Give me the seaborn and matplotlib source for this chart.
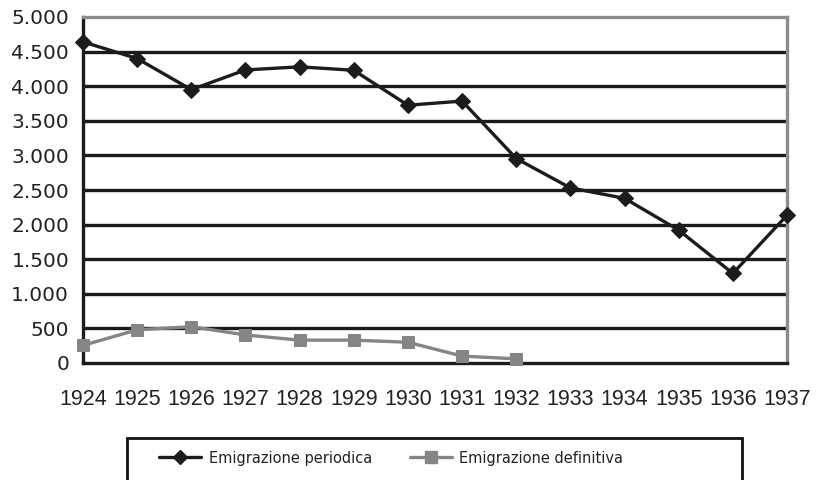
import pandas as pd
import matplotlib.pyplot as plt
import seaborn as sns
from matplotlib.lines import Line2D
from matplotlib.patches import Rectangle

# values
years = [1924, 1925, 1926, 1927, 1928, 1929, 1930, 1931, 1932, 1933, 1934, 1935, 1936, 1937]
periodica = [4640, 4400, 3950, 4235, 4280, 4230, 3725, 3785, 2955, 2530, 2380, 1920, 1295, 2135]
def_years = [1924, 1925, 1926, 1927, 1928, 1929, 1930, 1931, 1932]
definitiva = [255, 480, 525, 405, 330, 330, 300, 100, 60]
y_ticks = [0, 500, 1000, 1500, 2000, 2500, 3000, 3500, 4000, 4500, 5000]
y_labels = ["0", "500", "1.000", "1.500", "2.000", "2.500", "3.000", "3.500", "4.000", "4.500", "5.000"]

df_p = pd.DataFrame({"anno": years, "valore": periodica})
df_d = pd.DataFrame({"anno": def_years, "valore": definitiva})

sns.set_style("white")
plt.rcParams["font.family"] = ["DejaVu Sans"]

W, H = 817, 480
fig = plt.figure(figsize=(W / 100, H / 100), dpi=100)
ax = fig.add_axes([83 / W, 1 - 363 / H, (787 - 83) / W, (363 - 17) / H])

for y in y_ticks[1:-1]:
    ax.axhline(y, color="#1a1a1a", lw=2.4, zorder=1)

black = "#1c1c1c"
grey = "#858585"
sns.lineplot(data=df_p, x="anno", y="valore", ax=ax, color=black, lw=2.4,
             marker="D", markersize=8.5, markeredgecolor=black, clip_on=False, zorder=4)
sns.lineplot(data=df_d, x="anno", y="valore", ax=ax, color=grey, lw=2.4,
             marker="s", markersize=9, markeredgecolor=grey, clip_on=False, zorder=3)

ax.set_xlim(1924, 1937)
ax.set_ylim(0, 5000)
ax.set_xticks(years)
ax.set_xticklabels([str(y) for y in years], fontsize=15.5, family=["Liberation Sans", "DejaVu Sans"])
ax.set_yticks(y_ticks)
ax.set_yticklabels(y_labels, fontsize=14.5, color="#222222")
ax.tick_params(axis="x", direction="out", length=7, width=2.2, color=black, pad=12, labelcolor="#222222")
ax.tick_params(axis="y", direction="out", length=6, width=2.2, color=black, pad=4)
ax.set_xlabel("")
ax.set_ylabel("")

for side in ["left", "bottom"]:
    ax.spines[side].set_color(black)
    ax.spines[side].set_linewidth(2.4)
for side in ["top", "right"]:
    ax.spines[side].set_color("#8c8c8c")
    ax.spines[side].set_linewidth(2.4)
    ax.spines[side].set_visible(True)

# legend frame (runs off the bottom edge as in the reference)
fig.patches.append(Rectangle((127 / W, -0.02), (742 - 127) / W, 0.02 + (480 - 438) / H,
                             transform=fig.transFigure, fill=False, edgecolor="#111111", lw=2))

handles = [
    Line2D([], [], color=black, lw=2.4, marker="D", markersize=7),
    Line2D([], [], color=grey, lw=2.4, marker="s", markersize=8),
]
leg = fig.legend(handles, ["Emigrazione periodica", "Emigrazione definitiva"],
                 loc="center left", bbox_to_anchor=(146 / W, 1 - 458 / H),
                 ncol=2, frameon=False, fontsize=10.5, handlelength=2.9,
                 columnspacing=2.6, handletextpad=0.5)
for t in leg.get_texts():
    t.set_color("#222222")

fig.savefig("out.png", dpi=100)
